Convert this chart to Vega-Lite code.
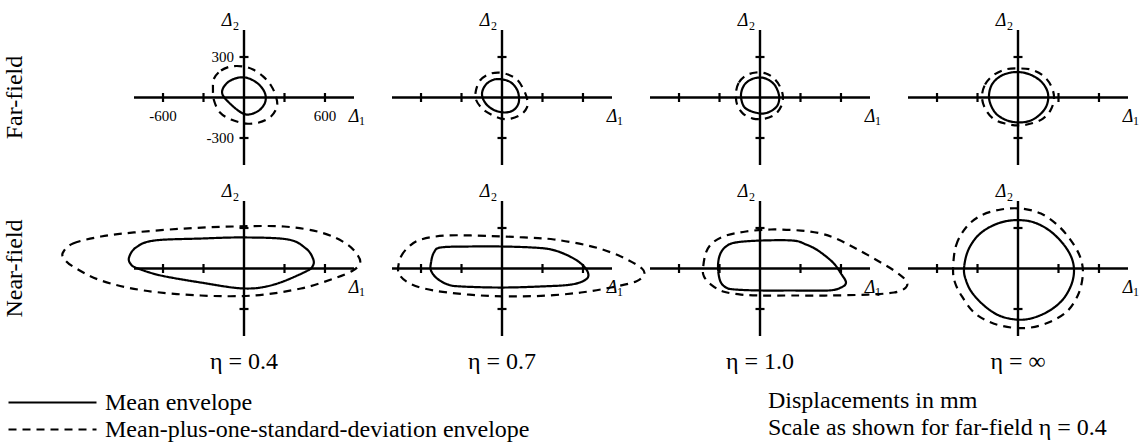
{
  "$schema": "https://vega.github.io/schema/vega-lite/v6.json",
  "padding": {"left": 3, "top": 12, "right": 2, "bottom": 0},
  "config": {"view": {"stroke": null}, "font": "Liberation Serif", "legend": {"labelFont": "Liberation Serif"}, "header": {"labelFont": "Liberation Serif"}},
  "title": {"text": ["Displacements in mm", "Scale as shown for far-field η = 0.4"], "orient": "bottom", "anchor": "start", "frame": "group", "align": "left", "dx": 634, "dy": -57, "offset": 4, "font": "Liberation Serif", "fontSize": 24, "fontWeight": "normal", "lineHeight": 27, "color": "black"},
  "data": {"values": [
    {"r":"F","c":"0.4","k":"h","x":-815,"x2":815,"y":0},{"r":"F","c":"0.4","k":"v","x":0,"y":-500,"y2":500},
    {"r":"F","c":"0.4","k":"tx","x":-600,"y":0},{"r":"F","c":"0.4","k":"tx","x":-300,"y":0},{"r":"F","c":"0.4","k":"tx","x":300,"y":0},{"r":"F","c":"0.4","k":"tx","x":600,"y":0},
    {"r":"F","c":"0.4","k":"ty","x":0,"y":300},{"r":"F","c":"0.4","k":"ty","x":0,"y":-300},
    {"r":"F","c":"0.4","k":"d1","x":815,"y":0},{"r":"F","c":"0.4","k":"d2","x":0,"y":500},
    {"r":"F","c":"0.4","k":"lx","x":-600,"y":0,"t":"-600"},{"r":"F","c":"0.4","k":"lx","x":600,"y":0,"t":"600"},
    {"r":"F","c":"0.4","k":"ly","x":0,"y":300,"t":"300"},{"r":"F","c":"0.4","k":"ly","x":0,"y":-300,"t":"-300"},

    {"r":"F","c":"0.7","k":"h","x":-815,"x2":815,"y":0},{"r":"F","c":"0.7","k":"v","x":0,"y":-500,"y2":500},
    {"r":"F","c":"0.7","k":"tx","x":-600,"y":0},{"r":"F","c":"0.7","k":"tx","x":-300,"y":0},{"r":"F","c":"0.7","k":"tx","x":300,"y":0},{"r":"F","c":"0.7","k":"tx","x":600,"y":0},
    {"r":"F","c":"0.7","k":"ty","x":0,"y":300},{"r":"F","c":"0.7","k":"ty","x":0,"y":-300},
    {"r":"F","c":"0.7","k":"d1","x":815,"y":0},{"r":"F","c":"0.7","k":"d2","x":0,"y":500},

    {"r":"F","c":"1.0","k":"h","x":-815,"x2":815,"y":0},{"r":"F","c":"1.0","k":"v","x":0,"y":-500,"y2":500},
    {"r":"F","c":"1.0","k":"tx","x":-600,"y":0},{"r":"F","c":"1.0","k":"tx","x":-300,"y":0},{"r":"F","c":"1.0","k":"tx","x":300,"y":0},{"r":"F","c":"1.0","k":"tx","x":600,"y":0},
    {"r":"F","c":"1.0","k":"ty","x":0,"y":300},{"r":"F","c":"1.0","k":"ty","x":0,"y":-300},
    {"r":"F","c":"1.0","k":"d1","x":815,"y":0},{"r":"F","c":"1.0","k":"d2","x":0,"y":500},

    {"r":"F","c":"∞","k":"h","x":-815,"x2":815,"y":0},{"r":"F","c":"∞","k":"v","x":0,"y":-500,"y2":500},
    {"r":"F","c":"∞","k":"tx","x":-600,"y":0},{"r":"F","c":"∞","k":"tx","x":-300,"y":0},{"r":"F","c":"∞","k":"tx","x":300,"y":0},{"r":"F","c":"∞","k":"tx","x":600,"y":0},
    {"r":"F","c":"∞","k":"ty","x":0,"y":300},{"r":"F","c":"∞","k":"ty","x":0,"y":-300},
    {"r":"F","c":"∞","k":"d1","x":815,"y":0},{"r":"F","c":"∞","k":"d2","x":0,"y":500},

    {"r":"N","c":"0.4","k":"h","x":-815,"x2":815,"y":0},{"r":"N","c":"0.4","k":"v","x":0,"y":-500,"y2":500},
    {"r":"N","c":"0.4","k":"tx","x":-600,"y":0},{"r":"N","c":"0.4","k":"tx","x":-300,"y":0},{"r":"N","c":"0.4","k":"tx","x":300,"y":0},{"r":"N","c":"0.4","k":"tx","x":600,"y":0},
    {"r":"N","c":"0.4","k":"ty","x":0,"y":300},{"r":"N","c":"0.4","k":"ty","x":0,"y":-300},
    {"r":"N","c":"0.4","k":"d1","x":815,"y":0},{"r":"N","c":"0.4","k":"d2","x":0,"y":500},

    {"r":"N","c":"0.7","k":"h","x":-815,"x2":815,"y":0},{"r":"N","c":"0.7","k":"v","x":0,"y":-500,"y2":500},
    {"r":"N","c":"0.7","k":"tx","x":-600,"y":0},{"r":"N","c":"0.7","k":"tx","x":-300,"y":0},{"r":"N","c":"0.7","k":"tx","x":300,"y":0},{"r":"N","c":"0.7","k":"tx","x":600,"y":0},
    {"r":"N","c":"0.7","k":"ty","x":0,"y":300},{"r":"N","c":"0.7","k":"ty","x":0,"y":-300},
    {"r":"N","c":"0.7","k":"d1","x":815,"y":0},{"r":"N","c":"0.7","k":"d2","x":0,"y":500},

    {"r":"N","c":"1.0","k":"h","x":-815,"x2":815,"y":0},{"r":"N","c":"1.0","k":"v","x":0,"y":-500,"y2":500},
    {"r":"N","c":"1.0","k":"tx","x":-600,"y":0},{"r":"N","c":"1.0","k":"tx","x":-300,"y":0},{"r":"N","c":"1.0","k":"tx","x":300,"y":0},{"r":"N","c":"1.0","k":"tx","x":600,"y":0},
    {"r":"N","c":"1.0","k":"ty","x":0,"y":300},{"r":"N","c":"1.0","k":"ty","x":0,"y":-300},
    {"r":"N","c":"1.0","k":"d1","x":815,"y":0},{"r":"N","c":"1.0","k":"d2","x":0,"y":500},

    {"r":"N","c":"∞","k":"h","x":-815,"x2":815,"y":0},{"r":"N","c":"∞","k":"v","x":0,"y":-500,"y2":500},
    {"r":"N","c":"∞","k":"tx","x":-600,"y":0},{"r":"N","c":"∞","k":"tx","x":-300,"y":0},{"r":"N","c":"∞","k":"tx","x":300,"y":0},{"r":"N","c":"∞","k":"tx","x":600,"y":0},
    {"r":"N","c":"∞","k":"ty","x":0,"y":300},{"r":"N","c":"∞","k":"ty","x":0,"y":-300},
    {"r":"N","c":"∞","k":"d1","x":815,"y":0},{"r":"N","c":"∞","k":"d2","x":0,"y":500},

    {"r":"F","c":"0.4","k":"c","e":"m","i":0,"x":-156,"y":67},{"r":"F","c":"0.4","k":"c","e":"m","i":1,"x":-111,"y":119},{"r":"F","c":"0.4","k":"c","e":"m","i":2,"x":-37,"y":148},{"r":"F","c":"0.4","k":"c","e":"m","i":3,"x":37,"y":141},{"r":"F","c":"0.4","k":"c","e":"m","i":4,"x":111,"y":96},{"r":"F","c":"0.4","k":"c","e":"m","i":5,"x":156,"y":30},{"r":"F","c":"0.4","k":"c","e":"m","i":6,"x":156,"y":-37},{"r":"F","c":"0.4","k":"c","e":"m","i":7,"x":111,"y":-96},{"r":"F","c":"0.4","k":"c","e":"m","i":8,"x":37,"y":-126},{"r":"F","c":"0.4","k":"c","e":"m","i":9,"x":-22,"y":-111},{"r":"F","c":"0.4","k":"c","e":"m","i":10,"x":-96,"y":-52},{"r":"F","c":"0.4","k":"c","e":"m","i":11,"x":-156,"y":15},
    {"r":"F","c":"0.4","k":"c","e":"s","i":0,"x":-222,"y":141},{"r":"F","c":"0.4","k":"c","e":"s","i":1,"x":-170,"y":200},{"r":"F","c":"0.4","k":"c","e":"s","i":2,"x":-96,"y":230},{"r":"F","c":"0.4","k":"c","e":"s","i":3,"x":-7,"y":230},{"r":"F","c":"0.4","k":"c","e":"s","i":4,"x":67,"y":207},{"r":"F","c":"0.4","k":"c","e":"s","i":5,"x":141,"y":156},{"r":"F","c":"0.4","k":"c","e":"s","i":6,"x":200,"y":89},{"r":"F","c":"0.4","k":"c","e":"s","i":7,"x":237,"y":7},{"r":"F","c":"0.4","k":"c","e":"s","i":8,"x":244,"y":-67},{"r":"F","c":"0.4","k":"c","e":"s","i":9,"x":200,"y":-141},{"r":"F","c":"0.4","k":"c","e":"s","i":10,"x":111,"y":-185},{"r":"F","c":"0.4","k":"c","e":"s","i":11,"x":15,"y":-193},{"r":"F","c":"0.4","k":"c","e":"s","i":12,"x":-96,"y":-163},{"r":"F","c":"0.4","k":"c","e":"s","i":13,"x":-178,"y":-111},{"r":"F","c":"0.4","k":"c","e":"s","i":14,"x":-222,"y":-22},{"r":"F","c":"0.4","k":"c","e":"s","i":15,"x":-230,"y":67},

    {"r":"F","c":"0.7","k":"c","e":"m","i":0,"x":-148,"y":30},{"r":"F","c":"0.7","k":"c","e":"m","i":1,"x":-119,"y":96},{"r":"F","c":"0.7","k":"c","e":"m","i":2,"x":-59,"y":133},{"r":"F","c":"0.7","k":"c","e":"m","i":3,"x":7,"y":133},{"r":"F","c":"0.7","k":"c","e":"m","i":4,"x":67,"y":111},{"r":"F","c":"0.7","k":"c","e":"m","i":5,"x":111,"y":59},{"r":"F","c":"0.7","k":"c","e":"m","i":6,"x":126,"y":0},{"r":"F","c":"0.7","k":"c","e":"m","i":7,"x":119,"y":-52},{"r":"F","c":"0.7","k":"c","e":"m","i":8,"x":81,"y":-96},{"r":"F","c":"0.7","k":"c","e":"m","i":9,"x":15,"y":-111},{"r":"F","c":"0.7","k":"c","e":"m","i":10,"x":-67,"y":-89},{"r":"F","c":"0.7","k":"c","e":"m","i":11,"x":-126,"y":-37},
    {"r":"F","c":"0.7","k":"c","e":"s","i":0,"x":-193,"y":52},{"r":"F","c":"0.7","k":"c","e":"s","i":1,"x":-163,"y":126},{"r":"F","c":"0.7","k":"c","e":"s","i":2,"x":-104,"y":170},{"r":"F","c":"0.7","k":"c","e":"s","i":3,"x":-30,"y":185},{"r":"F","c":"0.7","k":"c","e":"s","i":4,"x":44,"y":170},{"r":"F","c":"0.7","k":"c","e":"s","i":5,"x":111,"y":133},{"r":"F","c":"0.7","k":"c","e":"s","i":6,"x":156,"y":67},{"r":"F","c":"0.7","k":"c","e":"s","i":7,"x":185,"y":-7},{"r":"F","c":"0.7","k":"c","e":"s","i":8,"x":185,"y":-74},{"r":"F","c":"0.7","k":"c","e":"s","i":9,"x":141,"y":-126},{"r":"F","c":"0.7","k":"c","e":"s","i":10,"x":67,"y":-156},{"r":"F","c":"0.7","k":"c","e":"s","i":11,"x":-7,"y":-156},{"r":"F","c":"0.7","k":"c","e":"s","i":12,"x":-81,"y":-126},{"r":"F","c":"0.7","k":"c","e":"s","i":13,"x":-148,"y":-81},{"r":"F","c":"0.7","k":"c","e":"s","i":14,"x":-193,"y":-15},

    {"r":"F","c":"1.0","k":"c","e":"m","i":0,"x":-141,"y":15},{"r":"F","c":"1.0","k":"c","e":"m","i":1,"x":-119,"y":89},{"r":"F","c":"1.0","k":"c","e":"m","i":2,"x":-67,"y":133},{"r":"F","c":"1.0","k":"c","e":"m","i":3,"x":0,"y":148},{"r":"F","c":"1.0","k":"c","e":"m","i":4,"x":59,"y":133},{"r":"F","c":"1.0","k":"c","e":"m","i":5,"x":111,"y":89},{"r":"F","c":"1.0","k":"c","e":"m","i":6,"x":141,"y":15},{"r":"F","c":"1.0","k":"c","e":"m","i":7,"x":133,"y":-52},{"r":"F","c":"1.0","k":"c","e":"m","i":8,"x":89,"y":-96},{"r":"F","c":"1.0","k":"c","e":"m","i":9,"x":22,"y":-119},{"r":"F","c":"1.0","k":"c","e":"m","i":10,"x":-59,"y":-104},{"r":"F","c":"1.0","k":"c","e":"m","i":11,"x":-119,"y":-67},
    {"r":"F","c":"1.0","k":"c","e":"s","i":0,"x":-178,"y":37},{"r":"F","c":"1.0","k":"c","e":"s","i":1,"x":-156,"y":111},{"r":"F","c":"1.0","k":"c","e":"s","i":2,"x":-104,"y":163},{"r":"F","c":"1.0","k":"c","e":"s","i":3,"x":-30,"y":185},{"r":"F","c":"1.0","k":"c","e":"s","i":4,"x":44,"y":178},{"r":"F","c":"1.0","k":"c","e":"s","i":5,"x":104,"y":141},{"r":"F","c":"1.0","k":"c","e":"s","i":6,"x":148,"y":81},{"r":"F","c":"1.0","k":"c","e":"s","i":7,"x":170,"y":7},{"r":"F","c":"1.0","k":"c","e":"s","i":8,"x":156,"y":-67},{"r":"F","c":"1.0","k":"c","e":"s","i":9,"x":111,"y":-126},{"r":"F","c":"1.0","k":"c","e":"s","i":10,"x":37,"y":-156},{"r":"F","c":"1.0","k":"c","e":"s","i":11,"x":-52,"y":-156},{"r":"F","c":"1.0","k":"c","e":"s","i":12,"x":-126,"y":-119},{"r":"F","c":"1.0","k":"c","e":"s","i":13,"x":-170,"y":-52},

    {"r":"F","c":"∞","k":"c","e":"m","i":0,"x":-215,"y":15},{"r":"F","c":"∞","k":"c","e":"m","i":1,"x":-193,"y":96},{"r":"F","c":"∞","k":"c","e":"m","i":2,"x":-133,"y":156},{"r":"F","c":"∞","k":"c","e":"m","i":3,"x":-52,"y":185},{"r":"F","c":"∞","k":"c","e":"m","i":4,"x":37,"y":185},{"r":"F","c":"∞","k":"c","e":"m","i":5,"x":119,"y":156},{"r":"F","c":"∞","k":"c","e":"m","i":6,"x":185,"y":104},{"r":"F","c":"∞","k":"c","e":"m","i":7,"x":222,"y":30},{"r":"F","c":"∞","k":"c","e":"m","i":8,"x":215,"y":-52},{"r":"F","c":"∞","k":"c","e":"m","i":9,"x":170,"y":-119},{"r":"F","c":"∞","k":"c","e":"m","i":10,"x":96,"y":-170},{"r":"F","c":"∞","k":"c","e":"m","i":11,"x":7,"y":-185},{"r":"F","c":"∞","k":"c","e":"m","i":12,"x":-81,"y":-170},{"r":"F","c":"∞","k":"c","e":"m","i":13,"x":-156,"y":-126},{"r":"F","c":"∞","k":"c","e":"m","i":14,"x":-200,"y":-59},
    {"r":"F","c":"∞","k":"c","e":"s","i":0,"x":-267,"y":7},{"r":"F","c":"∞","k":"c","e":"s","i":1,"x":-244,"y":96},{"r":"F","c":"∞","k":"c","e":"s","i":2,"x":-185,"y":163},{"r":"F","c":"∞","k":"c","e":"s","i":3,"x":-96,"y":207},{"r":"F","c":"∞","k":"c","e":"s","i":4,"x":0,"y":215},{"r":"F","c":"∞","k":"c","e":"s","i":5,"x":96,"y":207},{"r":"F","c":"∞","k":"c","e":"s","i":6,"x":185,"y":163},{"r":"F","c":"∞","k":"c","e":"s","i":7,"x":244,"y":89},{"r":"F","c":"∞","k":"c","e":"s","i":8,"x":267,"y":0},{"r":"F","c":"∞","k":"c","e":"s","i":9,"x":244,"y":-89},{"r":"F","c":"∞","k":"c","e":"s","i":10,"x":185,"y":-156},{"r":"F","c":"∞","k":"c","e":"s","i":11,"x":96,"y":-193},{"r":"F","c":"∞","k":"c","e":"s","i":12,"x":0,"y":-207},{"r":"F","c":"∞","k":"c","e":"s","i":13,"x":-96,"y":-193},{"r":"F","c":"∞","k":"c","e":"s","i":14,"x":-185,"y":-156},{"r":"F","c":"∞","k":"c","e":"s","i":15,"x":-244,"y":-81},

    {"r":"N","c":"0.4","k":"c","e":"m","i":0,"x":-852,"y":81},{"r":"N","c":"0.4","k":"c","e":"m","i":1,"x":-800,"y":156},{"r":"N","c":"0.4","k":"c","e":"m","i":2,"x":-667,"y":207},{"r":"N","c":"0.4","k":"c","e":"m","i":3,"x":-319,"y":222},{"r":"N","c":"0.4","k":"c","e":"m","i":4,"x":0,"y":230},{"r":"N","c":"0.4","k":"c","e":"m","i":5,"x":326,"y":215},{"r":"N","c":"0.4","k":"c","e":"m","i":6,"x":459,"y":148},{"r":"N","c":"0.4","k":"c","e":"m","i":7,"x":511,"y":74},{"r":"N","c":"0.4","k":"c","e":"m","i":8,"x":511,"y":22},{"r":"N","c":"0.4","k":"c","e":"m","i":9,"x":459,"y":-22},{"r":"N","c":"0.4","k":"c","e":"m","i":10,"x":222,"y":-119},{"r":"N","c":"0.4","k":"c","e":"m","i":11,"x":0,"y":-148},{"r":"N","c":"0.4","k":"c","e":"m","i":12,"x":-319,"y":-104},{"r":"N","c":"0.4","k":"c","e":"m","i":13,"x":-615,"y":-52},{"r":"N","c":"0.4","k":"c","e":"m","i":14,"x":-785,"y":0},{"r":"N","c":"0.4","k":"c","e":"m","i":15,"x":-837,"y":30},
    {"r":"N","c":"0.4","k":"c","e":"s","i":0,"x":-1341,"y":119},{"r":"N","c":"0.4","k":"c","e":"s","i":1,"x":-1267,"y":185},{"r":"N","c":"0.4","k":"c","e":"s","i":2,"x":-1059,"y":237},{"r":"N","c":"0.4","k":"c","e":"s","i":3,"x":-815,"y":267},{"r":"N","c":"0.4","k":"c","e":"s","i":4,"x":-444,"y":296},{"r":"N","c":"0.4","k":"c","e":"s","i":5,"x":-74,"y":311},{"r":"N","c":"0.4","k":"c","e":"s","i":6,"x":296,"y":311},{"r":"N","c":"0.4","k":"c","e":"s","i":7,"x":570,"y":267},{"r":"N","c":"0.4","k":"c","e":"s","i":8,"x":756,"y":185},{"r":"N","c":"0.4","k":"c","e":"s","i":9,"x":844,"y":96},{"r":"N","c":"0.4","k":"c","e":"s","i":10,"x":859,"y":37},{"r":"N","c":"0.4","k":"c","e":"s","i":11,"x":807,"y":-15},{"r":"N","c":"0.4","k":"c","e":"s","i":12,"x":667,"y":-74},{"r":"N","c":"0.4","k":"c","e":"s","i":13,"x":422,"y":-148},{"r":"N","c":"0.4","k":"c","e":"s","i":14,"x":74,"y":-200},{"r":"N","c":"0.4","k":"c","e":"s","i":15,"x":-319,"y":-200},{"r":"N","c":"0.4","k":"c","e":"s","i":16,"x":-741,"y":-163},{"r":"N","c":"0.4","k":"c","e":"s","i":17,"x":-1059,"y":-89},{"r":"N","c":"0.4","k":"c","e":"s","i":18,"x":-1267,"y":15},{"r":"N","c":"0.4","k":"c","e":"s","i":19,"x":-1333,"y":74},

    {"r":"N","c":"0.7","k":"c","e":"m","i":0,"x":-526,"y":44},{"r":"N","c":"0.7","k":"c","e":"m","i":1,"x":-504,"y":119},{"r":"N","c":"0.7","k":"c","e":"m","i":2,"x":-452,"y":156},{"r":"N","c":"0.7","k":"c","e":"m","i":3,"x":-230,"y":163},{"r":"N","c":"0.7","k":"c","e":"m","i":4,"x":-7,"y":163},{"r":"N","c":"0.7","k":"c","e":"m","i":5,"x":215,"y":156},{"r":"N","c":"0.7","k":"c","e":"m","i":6,"x":363,"y":141},{"r":"N","c":"0.7","k":"c","e":"m","i":7,"x":489,"y":96},{"r":"N","c":"0.7","k":"c","e":"m","i":8,"x":585,"y":37},{"r":"N","c":"0.7","k":"c","e":"m","i":9,"x":637,"y":-30},{"r":"N","c":"0.7","k":"c","e":"m","i":10,"x":622,"y":-81},{"r":"N","c":"0.7","k":"c","e":"m","i":11,"x":511,"y":-119},{"r":"N","c":"0.7","k":"c","e":"m","i":12,"x":289,"y":-133},{"r":"N","c":"0.7","k":"c","e":"m","i":13,"x":-7,"y":-141},{"r":"N","c":"0.7","k":"c","e":"m","i":14,"x":-304,"y":-133},{"r":"N","c":"0.7","k":"c","e":"m","i":15,"x":-400,"y":-119},{"r":"N","c":"0.7","k":"c","e":"m","i":16,"x":-481,"y":-74},{"r":"N","c":"0.7","k":"c","e":"m","i":17,"x":-526,"y":-15},
    {"r":"N","c":"0.7","k":"c","e":"s","i":0,"x":-770,"y":0},{"r":"N","c":"0.7","k":"c","e":"s","i":1,"x":-748,"y":89},{"r":"N","c":"0.7","k":"c","e":"s","i":2,"x":-689,"y":163},{"r":"N","c":"0.7","k":"c","e":"s","i":3,"x":-600,"y":215},{"r":"N","c":"0.7","k":"c","e":"s","i":4,"x":-400,"y":245},{"r":"N","c":"0.7","k":"c","e":"s","i":5,"x":-81,"y":240},{"r":"N","c":"0.7","k":"c","e":"s","i":6,"x":163,"y":230},{"r":"N","c":"0.7","k":"c","e":"s","i":7,"x":385,"y":215},{"r":"N","c":"0.7","k":"c","e":"s","i":8,"x":637,"y":170},{"r":"N","c":"0.7","k":"c","e":"s","i":9,"x":807,"y":119},{"r":"N","c":"0.7","k":"c","e":"s","i":10,"x":941,"y":59},{"r":"N","c":"0.7","k":"c","e":"s","i":11,"x":1037,"y":0},{"r":"N","c":"0.7","k":"c","e":"s","i":12,"x":1052,"y":-44},{"r":"N","c":"0.7","k":"c","e":"s","i":13,"x":993,"y":-96},{"r":"N","c":"0.7","k":"c","e":"s","i":14,"x":807,"y":-141},{"r":"N","c":"0.7","k":"c","e":"s","i":15,"x":585,"y":-178},{"r":"N","c":"0.7","k":"c","e":"s","i":16,"x":341,"y":-200},{"r":"N","c":"0.7","k":"c","e":"s","i":17,"x":89,"y":-207},{"r":"N","c":"0.7","k":"c","e":"s","i":18,"x":-156,"y":-200},{"r":"N","c":"0.7","k":"c","e":"s","i":19,"x":-400,"y":-178},{"r":"N","c":"0.7","k":"c","e":"s","i":20,"x":-578,"y":-148},{"r":"N","c":"0.7","k":"c","e":"s","i":21,"x":-696,"y":-104},{"r":"N","c":"0.7","k":"c","e":"s","i":22,"x":-756,"y":-52},

    {"r":"N","c":"1.0","k":"c","e":"m","i":0,"x":-311,"y":15},{"r":"N","c":"1.0","k":"c","e":"m","i":1,"x":-296,"y":104},{"r":"N","c":"1.0","k":"c","e":"m","i":2,"x":-252,"y":163},{"r":"N","c":"1.0","k":"c","e":"m","i":3,"x":-178,"y":193},{"r":"N","c":"1.0","k":"c","e":"m","i":4,"x":7,"y":207},{"r":"N","c":"1.0","k":"c","e":"m","i":5,"x":244,"y":207},{"r":"N","c":"1.0","k":"c","e":"m","i":6,"x":341,"y":178},{"r":"N","c":"1.0","k":"c","e":"m","i":7,"x":430,"y":133},{"r":"N","c":"1.0","k":"c","e":"m","i":8,"x":541,"y":44},{"r":"N","c":"1.0","k":"c","e":"m","i":9,"x":600,"y":-37},{"r":"N","c":"1.0","k":"c","e":"m","i":10,"x":637,"y":-104},{"r":"N","c":"1.0","k":"c","e":"m","i":11,"x":600,"y":-141},{"r":"N","c":"1.0","k":"c","e":"m","i":12,"x":504,"y":-163},{"r":"N","c":"1.0","k":"c","e":"m","i":13,"x":230,"y":-163},{"r":"N","c":"1.0","k":"c","e":"m","i":14,"x":7,"y":-163},{"r":"N","c":"1.0","k":"c","e":"m","i":15,"x":-178,"y":-156},{"r":"N","c":"1.0","k":"c","e":"m","i":16,"x":-252,"y":-141},{"r":"N","c":"1.0","k":"c","e":"m","i":17,"x":-296,"y":-89},
    {"r":"N","c":"1.0","k":"c","e":"s","i":0,"x":-422,"y":0},{"r":"N","c":"1.0","k":"c","e":"s","i":1,"x":-400,"y":119},{"r":"N","c":"1.0","k":"c","e":"s","i":2,"x":-348,"y":193},{"r":"N","c":"1.0","k":"c","e":"s","i":3,"x":-252,"y":244},{"r":"N","c":"1.0","k":"c","e":"s","i":4,"x":-104,"y":274},{"r":"N","c":"1.0","k":"c","e":"s","i":5,"x":81,"y":289},{"r":"N","c":"1.0","k":"c","e":"s","i":6,"x":304,"y":281},{"r":"N","c":"1.0","k":"c","e":"s","i":7,"x":452,"y":259},{"r":"N","c":"1.0","k":"c","e":"s","i":8,"x":563,"y":222},{"r":"N","c":"1.0","k":"c","e":"s","i":9,"x":696,"y":156},{"r":"N","c":"1.0","k":"c","e":"s","i":10,"x":844,"y":74},{"r":"N","c":"1.0","k":"c","e":"s","i":11,"x":993,"y":-15},{"r":"N","c":"1.0","k":"c","e":"s","i":12,"x":1081,"y":-89},{"r":"N","c":"1.0","k":"c","e":"s","i":13,"x":1081,"y":-141},{"r":"N","c":"1.0","k":"c","e":"s","i":14,"x":993,"y":-178},{"r":"N","c":"1.0","k":"c","e":"s","i":15,"x":800,"y":-193},{"r":"N","c":"1.0","k":"c","e":"s","i":16,"x":504,"y":-200},{"r":"N","c":"1.0","k":"c","e":"s","i":17,"x":230,"y":-200},{"r":"N","c":"1.0","k":"c","e":"s","i":18,"x":7,"y":-200},{"r":"N","c":"1.0","k":"c","e":"s","i":19,"x":-141,"y":-193},{"r":"N","c":"1.0","k":"c","e":"s","i":20,"x":-274,"y":-170},{"r":"N","c":"1.0","k":"c","e":"s","i":21,"x":-363,"y":-119},{"r":"N","c":"1.0","k":"c","e":"s","i":22,"x":-415,"y":-59},

    {"r":"N","c":"∞","k":"c","e":"m","i":0,"x":-400,"y":0},{"r":"N","c":"∞","k":"c","e":"m","i":1,"x":-370,"y":133},{"r":"N","c":"∞","k":"c","e":"m","i":2,"x":-296,"y":244},{"r":"N","c":"∞","k":"c","e":"m","i":3,"x":-185,"y":319},{"r":"N","c":"∞","k":"c","e":"m","i":4,"x":-52,"y":356},{"r":"N","c":"∞","k":"c","e":"m","i":5,"x":96,"y":348},{"r":"N","c":"∞","k":"c","e":"m","i":6,"x":222,"y":289},{"r":"N","c":"∞","k":"c","e":"m","i":7,"x":326,"y":193},{"r":"N","c":"∞","k":"c","e":"m","i":8,"x":393,"y":89},{"r":"N","c":"∞","k":"c","e":"m","i":9,"x":415,"y":-15},{"r":"N","c":"∞","k":"c","e":"m","i":10,"x":393,"y":-126},{"r":"N","c":"∞","k":"c","e":"m","i":11,"x":326,"y":-237},{"r":"N","c":"∞","k":"c","e":"m","i":12,"x":222,"y":-319},{"r":"N","c":"∞","k":"c","e":"m","i":13,"x":96,"y":-370},{"r":"N","c":"∞","k":"c","e":"m","i":14,"x":-15,"y":-378},{"r":"N","c":"∞","k":"c","e":"m","i":15,"x":-141,"y":-348},{"r":"N","c":"∞","k":"c","e":"m","i":16,"x":-252,"y":-274},{"r":"N","c":"∞","k":"c","e":"m","i":17,"x":-341,"y":-178},{"r":"N","c":"∞","k":"c","e":"m","i":18,"x":-385,"y":-89},
    {"r":"N","c":"∞","k":"c","e":"s","i":0,"x":-481,"y":0},{"r":"N","c":"∞","k":"c","e":"s","i":1,"x":-459,"y":170},{"r":"N","c":"∞","k":"c","e":"s","i":2,"x":-385,"y":304},{"r":"N","c":"∞","k":"c","e":"s","i":3,"x":-274,"y":393},{"r":"N","c":"∞","k":"c","e":"s","i":4,"x":-126,"y":437},{"r":"N","c":"∞","k":"c","e":"s","i":5,"x":22,"y":444},{"r":"N","c":"∞","k":"c","e":"s","i":6,"x":170,"y":407},{"r":"N","c":"∞","k":"c","e":"s","i":7,"x":296,"y":319},{"r":"N","c":"∞","k":"c","e":"s","i":8,"x":393,"y":207},{"r":"N","c":"∞","k":"c","e":"s","i":9,"x":459,"y":89},{"r":"N","c":"∞","k":"c","e":"s","i":10,"x":481,"y":-30},{"r":"N","c":"∞","k":"c","e":"s","i":11,"x":452,"y":-178},{"r":"N","c":"∞","k":"c","e":"s","i":12,"x":370,"y":-311},{"r":"N","c":"∞","k":"c","e":"s","i":13,"x":244,"y":-393},{"r":"N","c":"∞","k":"c","e":"s","i":14,"x":96,"y":-437},{"r":"N","c":"∞","k":"c","e":"s","i":15,"x":-52,"y":-437},{"r":"N","c":"∞","k":"c","e":"s","i":16,"x":-200,"y":-400},{"r":"N","c":"∞","k":"c","e":"s","i":17,"x":-326,"y":-326},{"r":"N","c":"∞","k":"c","e":"s","i":18,"x":-415,"y":-207},{"r":"N","c":"∞","k":"c","e":"s","i":19,"x":-467,"y":-104}
  ]},
  "bounds": "flush",
  "spacing": {"row": 36, "column": 38},
  "facet": {
    "row": {"field": "r", "type": "nominal", "sort": ["F", "N"], "header": {"title": null, "labelOrient": "left", "labelAngle": -90, "labelPadding": 95, "labelFont": "Liberation Serif", "labelFontSize": 24, "labelColor": "black", "labelExpr": "datum.value == 'F' ? 'Far-field' : 'Near-field'"}},
    "column": {"field": "c", "type": "nominal", "sort": ["0.4", "0.7", "1.0", "∞"], "header": {"title": null, "labelOrient": "bottom", "labelPadding": 14, "labelFont": "Liberation Serif", "labelFontSize": 24, "labelColor": "black", "labelExpr": "'η = ' + datum.value"}}
  },
  "spec": {
    "width": 220,
    "height": 135,
    "encoding": {
      "x": {"field": "x", "type": "quantitative", "scale": {"domain": [-815, 815], "nice": false, "zero": false}, "axis": null},
      "y": {"field": "y", "type": "quantitative", "scale": {"domain": [-500, 500], "nice": false, "zero": false}, "axis": null}
    },
    "layer": [
      {"transform": [{"filter": "datum.k == 'h'"}], "mark": {"type": "rule", "color": "black", "strokeWidth": 2.4}, "encoding": {"x2": {"field": "x2"}}},
      {"transform": [{"filter": "datum.k == 'v'"}], "mark": {"type": "rule", "color": "black", "strokeWidth": 2.4}, "encoding": {"y2": {"field": "y2"}}},
      {"transform": [{"filter": "datum.k == 'tx'"}], "mark": {"type": "tick", "orient": "vertical", "color": "black", "size": 9, "thickness": 2.2, "opacity": 1}},
      {"transform": [{"filter": "datum.k == 'ty'"}], "mark": {"type": "tick", "orient": "horizontal", "color": "black", "size": 9, "thickness": 2.2, "opacity": 1}},
      {"transform": [{"filter": "datum.k == 'c'"}], "mark": {"type": "line", "interpolate": "cardinal-closed", "color": "black", "strokeWidth": 2.2},
        "encoding": {
          "order": {"field": "i", "type": "quantitative"},
          "strokeDash": {"field": "e", "type": "nominal", "scale": {"domain": ["m", "s"], "range": [[1, 0], [8, 6]]},
            "legend": {"orient": "none", "legendX": -127, "legendY": 360, "title": null, "padding": 0, "symbolType": "M-1,0H7", "symbolSize": 484, "symbolStrokeWidth": 2.2, "symbolStrokeColor": "black", "symbolFillColor": "transparent", "labelFont": "Liberation Serif", "labelFontSize": 24, "labelColor": "black", "labelOffset": 73, "labelLimit": 0, "rowPadding": 2, "labelExpr": "datum.value == 'm' ? 'Mean envelope' : 'Mean-plus-one-standard-deviation envelope'"}}
        }},
      {"transform": [{"filter": "datum.k == 'd1'"}], "mark": {"type": "text", "text": "Δ", "font": "Liberation Serif", "fontStyle": "italic", "fontSize": 18, "align": "center", "baseline": "alphabetic", "dy": 24, "color": "black"}},
      {"transform": [{"filter": "datum.k == 'd1'"}], "mark": {"type": "text", "text": "1", "font": "Liberation Serif", "fontSize": 12, "align": "left", "baseline": "alphabetic", "dx": 5, "dy": 27, "color": "black"}},
      {"transform": [{"filter": "datum.k == 'd2'"}], "mark": {"type": "text", "text": "Δ", "font": "Liberation Serif", "fontStyle": "italic", "fontSize": 18, "align": "center", "baseline": "alphabetic", "dx": -17, "dy": -4, "color": "black"}},
      {"transform": [{"filter": "datum.k == 'd2'"}], "mark": {"type": "text", "text": "2", "font": "Liberation Serif", "fontSize": 12, "align": "left", "baseline": "alphabetic", "dx": -11, "dy": 0, "color": "black"}},
      {"transform": [{"filter": "datum.k == 'lx'"}], "mark": {"type": "text", "font": "Liberation Serif", "fontSize": 15, "align": "center", "baseline": "alphabetic", "dy": 23, "color": "black"}, "encoding": {"text": {"field": "t"}}},
      {"transform": [{"filter": "datum.k == 'ly'"}], "mark": {"type": "text", "font": "Liberation Serif", "fontSize": 15, "align": "right", "baseline": "middle", "dx": -10, "color": "black"}, "encoding": {"text": {"field": "t"}}}
    ]
  }
}
